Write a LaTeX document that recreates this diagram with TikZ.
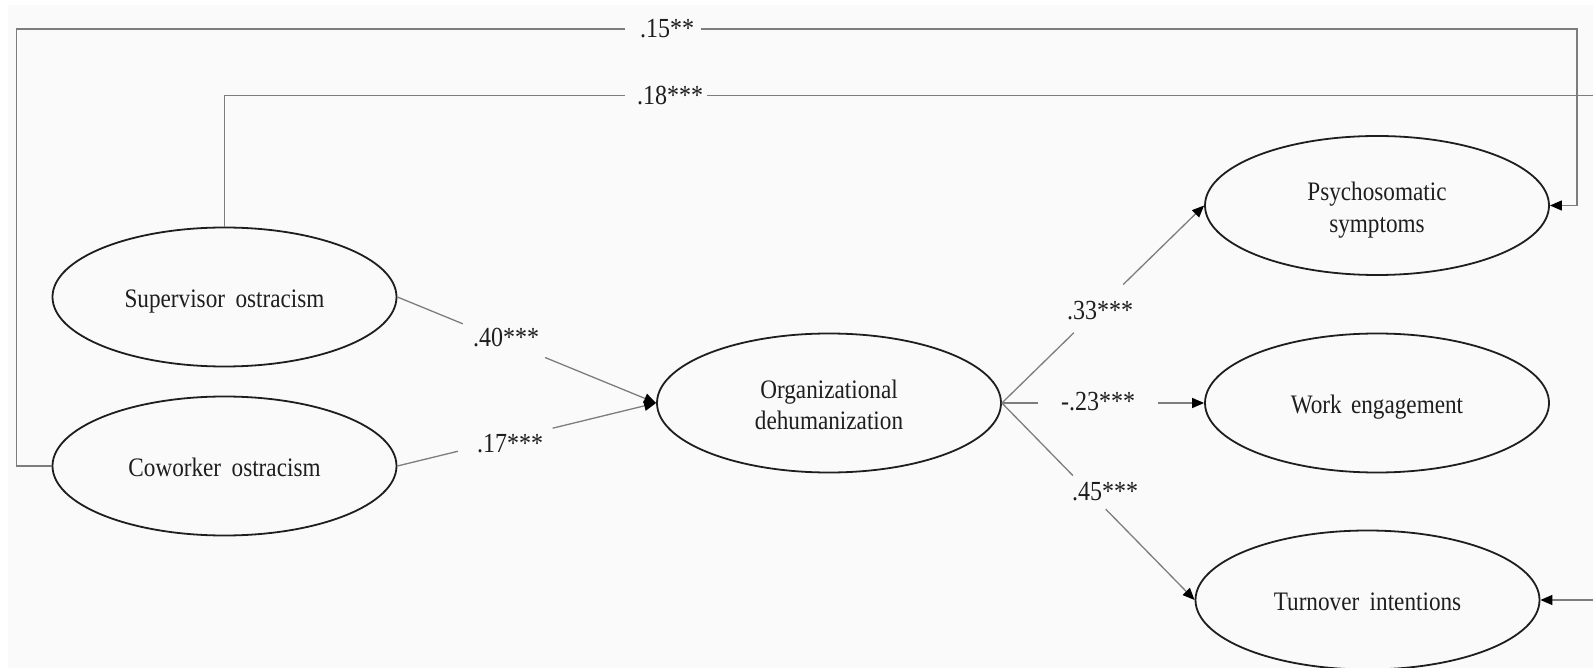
\documentclass[tikz,border=0pt]{standalone}
\usepackage{fontspec}
\setmainfont{Liberation Serif}
\usetikzlibrary{shapes.geometric,arrows.meta,calc}
\definecolor{bg}{RGB}{250,250,250}
\definecolor{lin}{RGB}{125,125,125}
\definecolor{ink}{RGB}{30,30,30}
\newcommand{\stx}[1]{\raisebox{-4.5pt}[\height][\depth]{\scalebox{1}[1.15]{\begin{tabular}{@{}c@{}}#1\end{tabular}}}}
\newcommand{\slab}[1]{\scalebox{1}[1.15]{#1}}
\begin{document}
\begin{tikzpicture}[x=1pt,y=-1pt,
  latent/.style={ellipse,draw=ink,line width=1.8pt,minimum width=344pt,minimum height=139pt,inner sep=0pt,align=center,text=ink,font=\fontsize{23.2}{27.5}\selectfont},
  conn/.style={draw=lin,line width=1.3pt},
  arr/.style={-{Triangle[length=12pt,width=10pt,color=black]}},
  coef/.style={text=ink,font=\fontsize{24}{27}\selectfont,inner sep=0pt}]
\useasboundingbox (0,0) rectangle (1593,668);
\fill[white] (0,0) rectangle (1593,668);
\fill[bg] (8,5) rectangle (1593,668);

% latent variables
\node[latent] (sup) at (224.5,297) {\stx{Supervisor\hspace{0.45em}ostracism}};
\node[latent] (cow) at (224.5,466) {\stx{Coworker\hspace{0.45em}ostracism}};
\node[latent] (org) at (829,403) {\stx{Organizational\\dehumanization}};
\node[latent] (psy) at (1377,205.5) {\stx{Psychosomatic\\symptoms}};
\node[latent] (wrk) at (1377,403) {\stx{Work\hspace{0.4em}engagement}};
\node[latent] (tur) at (1367.5,600) {\stx{Turnover\hspace{0.45em}intentions}};

% coefficient labels
\node[coef] (l40) at (506,338) {\slab{.40***}};
\node[coef] (l17) at (510,444) {\slab{.17***}};
\node[coef] (l33) at (1100,311) {\slab{.33***}};
\node[coef] (l23) at (1098,402) {\slab{-.23***}};
\node[coef] (l45) at (1105,492) {\slab{.45***}};
\node[coef] (l15) at (667,29) {\slab{.15**}};
\node[coef] (l18) at (670,95.5) {\slab{.18***}};

% supervisor -> org
\draw[conn] (sup.east) -- ($(sup.east)!0.253!(org.west)$);
\draw[conn,arr] ($(sup.east)!0.571!(org.west)$) -- (org.west);
% coworker -> org
\draw[conn] (cow.east) -- ($(cow.east)!0.234!(org.west)$);
\draw[conn,arr] ($(cow.east)!0.60!(org.west)$) -- (org.west);
% org -> psy
\draw[conn] (org.east) -- ($(org.east)!0.356!(psy.west)$);
\draw[conn,arr] ($(org.east)!0.60!(psy.west)$) -- (psy.west);
% org -> work
\draw[conn] (org.east) -- ($(org.east)!0.177!(wrk.west)$);
\draw[conn,arr] ($(org.east)!0.773!(wrk.west)$) -- (wrk.west);
% org -> turnover
\draw[conn] (org.east) -- ($(org.east)!0.368!(tur.west)$);
\draw[conn,arr] ($(org.east)!0.539!(tur.west)$) -- (tur.west);

% coworker -> psychosomatic (top)
\coordinate (a1) at (16.7,29);
\coordinate (a1g) at (625,29);
\coordinate (a2g) at (701,29);
\coordinate (a2) at (1577,29);
\draw[conn] (cow.west) -| (a1) -- (a1g);
\draw[conn,arr] (a2g) -- (a2) |- (psy.east);

% supervisor -> turnover
\coordinate (b1) at (224.5,95.5);
\coordinate (b1g) at (625,95.5);
\coordinate (b2g) at (707,95.5);
\coordinate (b2) at (1620,95.5);
\draw[conn] (sup.north) -- (b1) -- (b1g);
\begin{scope}
\clip (0,0) rectangle (1593,668);
\draw[conn,arr] (b2g) -- (b2) |- (tur.east);
\end{scope}
\end{tikzpicture}
\end{document}
